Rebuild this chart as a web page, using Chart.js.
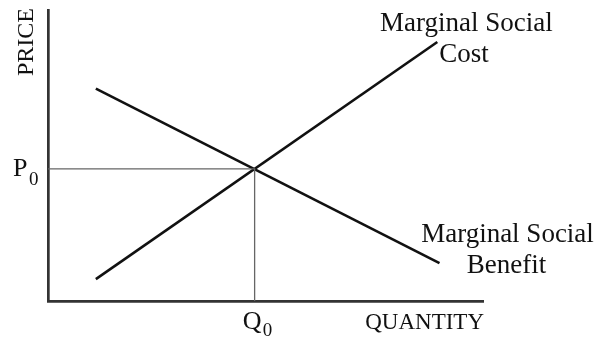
<!DOCTYPE html>
<html>
<head>
<meta charset="utf-8">
<script src="https://cdn.jsdelivr.net/npm/chart.js@4.4.0/dist/chart.umd.min.js"></script>
<style>
  html, body { margin: 0; padding: 0; background: #fff; }
  #wrap { width: 595px; height: 337px; }
</style>
</head>
<body>
<div id="wrap"><canvas id="chart" width="595" height="337"></canvas></div>
<script>
// Curve end points (quantity, price)
const mscPoints = [{ x: 1.1, y: 0.75 }, { x: 8.95, y: 8.9 }];
const msbPoints = [{ x: 1.1, y: 7.3 }, { x: 9.0, y: 1.3 }];

// Equilibrium
const Q0 = 4.75;
const P0 = 4.54;

// Labels
const mscLabel = ['Marginal Social', 'Cost'];
const msbLabel = ['Marginal Social', 'Benefit'];
const xTitle = 'QUANTITY';
const yTitle = 'PRICE';

const serif = '"Liberation Serif", "Times New Roman", serif';
const ink = '#111';

// Draws the text labels next to the curves and axes
const labelPlugin = {
    id: 'labels',
    afterDraw(chart) {
        const { ctx, chartArea, scales } = chart;
        const xs = scales.x, ys = scales.y;
        ctx.save();
        ctx.fillStyle = ink;
        ctx.textBaseline = 'alphabetic';

        // MSC label
        const mscEnd = mscPoints[mscPoints.length - 1];
        let ex = xs.getPixelForValue(mscEnd.x), ey = ys.getPixelForValue(mscEnd.y);
        ctx.font = '27px ' + serif;
        ctx.textAlign = 'center';
        ctx.fillText(mscLabel[0], ex + 29, ey - 11);
        ctx.textAlign = 'left';
        ctx.fillText(mscLabel[1], ex + 2, ey + 20);

        // MSB label
        const msbEnd = msbPoints[msbPoints.length - 1];
        ex = xs.getPixelForValue(msbEnd.x); ey = ys.getPixelForValue(msbEnd.y);
        ctx.textAlign = 'center';
        ctx.fillText(msbLabel[0], ex + 68, ey - 21);
        ctx.fillText(msbLabel[1], ex + 67, ey + 10);

        // Axis titles
        ctx.font = '23px ' + serif;
        ctx.textAlign = 'right';
        ctx.fillText(xTitle, chartArea.right + 1, chartArea.bottom + 28);

        ctx.save();
        ctx.translate(chartArea.left - 15, chartArea.top + 32);
        ctx.rotate(-Math.PI / 2);
        ctx.font = '24px ' + serif;
        ctx.textAlign = 'center';
        ctx.fillText(yTitle, 0, 0);
        ctx.restore();

        // Q0 and P0
        const qx = xs.getPixelForValue(Q0);
        const py = ys.getPixelForValue(P0);
        ctx.textAlign = 'left';
        ctx.font = '26px ' + serif;
        ctx.fillText('Q', qx - 12, chartArea.bottom + 28);
        ctx.fillText('P', 13, py + 7);
        ctx.font = '19px ' + serif;
        ctx.fillText('0', qx + 8, chartArea.bottom + 35);
        ctx.fillText('0', 29, py + 16);

        ctx.restore();
    }
};

const ctx = document.getElementById('chart').getContext('2d');

const chart = new Chart(ctx, {
    type: 'scatter',
    data: {
        datasets: [
            {
                label: 'Equilibrium guides',
                data: [{ x: 0, y: P0 }, { x: Q0, y: P0 }, { x: Q0, y: 0 }],
                showLine: true,
                borderColor: '#666',
                borderWidth: 1.3,
                pointRadius: 0,
            },
            {
                label: 'Marginal Social Cost',
                data: mscPoints,
                showLine: true,
                borderColor: ink,
                borderWidth: 2.6,
                pointRadius: 0,
            },
            {
                label: 'Marginal Social Benefit',
                data: msbPoints,
                showLine: true,
                borderColor: ink,
                borderWidth: 2.6,
                pointRadius: 0,
            },
        ],
    },
    options: {
        responsive: false,
        animation: false,
        layout: { padding: { left: 48, right: 112, top: 10, bottom: 36 } },
        plugins: {
            legend: { display: false },
            tooltip: { enabled: false },
        },
        scales: {
            x: {
                type: 'linear',
                min: 0,
                max: 10,
                grid: { display: false, drawTicks: false },
                ticks: { display: false },
                border: { display: true, color: '#333', width: 2.7 },
            },
            y: {
                type: 'linear',
                min: 0,
                max: 10,
                grid: { display: false, drawTicks: false },
                ticks: { display: false },
                border: { display: true, color: '#333', width: 2.7 },
            },
        },
    },
    plugins: [labelPlugin],
});
</script>
</body>
</html>
